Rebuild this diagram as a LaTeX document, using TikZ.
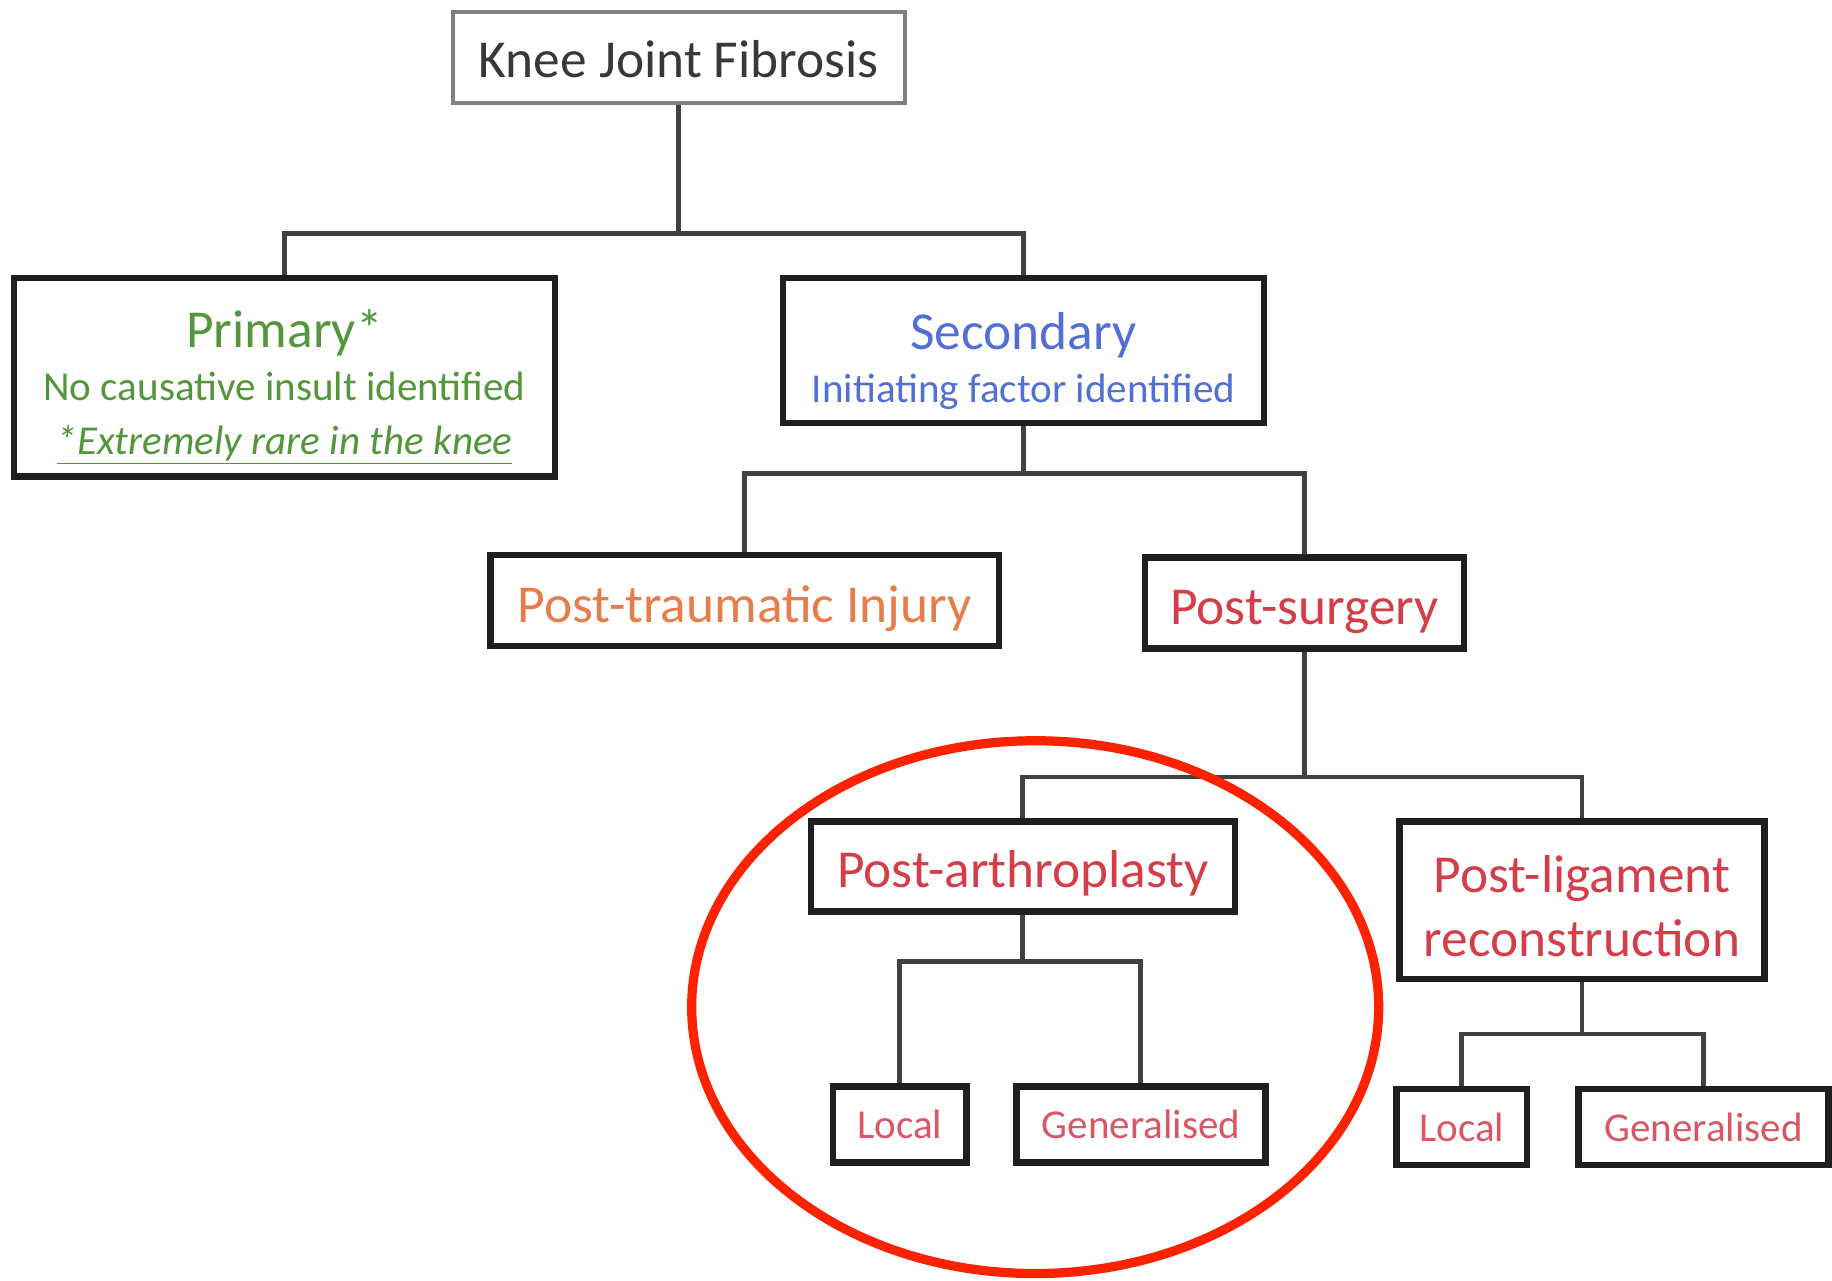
\documentclass[tikz,border=0pt]{standalone}
\usepackage{fontspec}
\setmainfont{Carlito}
\definecolor{primgreen}{RGB}{84,150,60}
\definecolor{secblue}{RGB}{82,112,212}
\definecolor{traumaorange}{RGB}{230,125,75}
\definecolor{surgred}{RGB}{212,62,72}
\definecolor{leafred}{RGB}{218,86,100}
\definecolor{ringred}{RGB}{255,34,0}
\newcommand{\fork}[4]{%
 \draw[link] (#1) -- (#1 |- #2) -| (#3);%
 \draw[link] (#1 |- #2) -| (#4);%
}
\newcommand{\lift}[1]{\rule{0pt}{#1}}

\begin{document}
\begin{tikzpicture}[box/.style={draw=black!88,line width=3.2pt,align=center,inner sep=2pt},
  link/.style={draw=black!75,line width=2.4pt},
  big/.style={font=\fontsize{26}{31}\selectfont,text height=21pt,text depth=0pt},
  small/.style={font=\fontsize{20}{26}\selectfont}]
   \useasboundingbox (0,0) rectangle (31.36,-21.92);
   % top level
   \node[box,draw=black!50,line width=1.8pt,font=\fontsize{26}{31}\selectfont,text height=20pt,text depth=0pt,text=black!78,minimum width=7.74cm,minimum height=1.56cm] (root) at (11.62,-0.98) {Knee Joint Fibrosis};
   \node[box,small,text=primgreen,minimum width=9.26cm,minimum height=3.4cm] (prim) at (4.87,-6.46)
     {\lift{28pt}{\fontsize{26}{26}\selectfont Primary*}\\No causative insult identified\\\underline{\itshape *Extremely rare in the knee}};
   \node[box,small,text=secblue,minimum width=8.24cm,minimum height=2.48cm] (sec) at (17.52,-6.0)
     {\lift{28pt}{\fontsize{26}{26}\selectfont Secondary}\\Initiating factor identified};
   % secondary causes
   \node[box,big,text=traumaorange,minimum width=8.7cm,minimum height=1.56cm] (trauma) at (12.75,-10.28) {Post-traumatic Injury};
   \node[box,big,text=surgred,minimum width=5.46cm,minimum height=1.56cm] (surg) at (22.33,-10.32) {Post-surgery};
   \node[box,big,text=surgred,minimum width=7.26cm,minimum height=1.54cm] (arthro) at (17.51,-14.83) {Post-arthroplasty};
   \node[box,font=\fontsize{26}{31}\selectfont,text=surgred,minimum width=6.24cm,minimum height=2.7cm] (lig) at (27.08,-15.41) {\lift{24pt}Post-ligament\\reconstruction};
   % leaves
   \node[box,small,text=leafred,minimum width=2.28cm,minimum height=1.3cm] (loca) at (15.4,-19.25) {Local};
   \node[box,small,text=leafred,minimum width=4.26cm,minimum height=1.3cm] (gena) at (19.53,-19.25) {Generalised};
   \node[box,small,text=leafred,minimum width=2.24cm,minimum height=1.3cm] (locl) at (25.02,-19.29) {Local};
   \node[box,small,text=leafred,minimum width=4.28cm,minimum height=1.3cm] (genl) at (29.16,-19.29) {Generalised};
   \coordinate (b1) at (0,-4.0);
   \coordinate (b2) at (0,-8.1);
   \coordinate (b3) at (0,-13.3);
   \coordinate (b4) at (0,-16.46);
   \coordinate (b5) at (0,-17.7);
   \fork{root}{b1}{prim}{sec}
   \fork{sec}{b2}{trauma}{surg}
   \fork{surg}{b3}{arthro}{lig}
   \fork{arthro}{b4}{loca}{gena}
   \fork{lig}{b5}{locl}{genl}
   \draw[ringred,line width=4.5pt] (17.72,-17.24) ellipse [x radius=5.88, y radius=4.56];
\end{tikzpicture}
\end{document}
